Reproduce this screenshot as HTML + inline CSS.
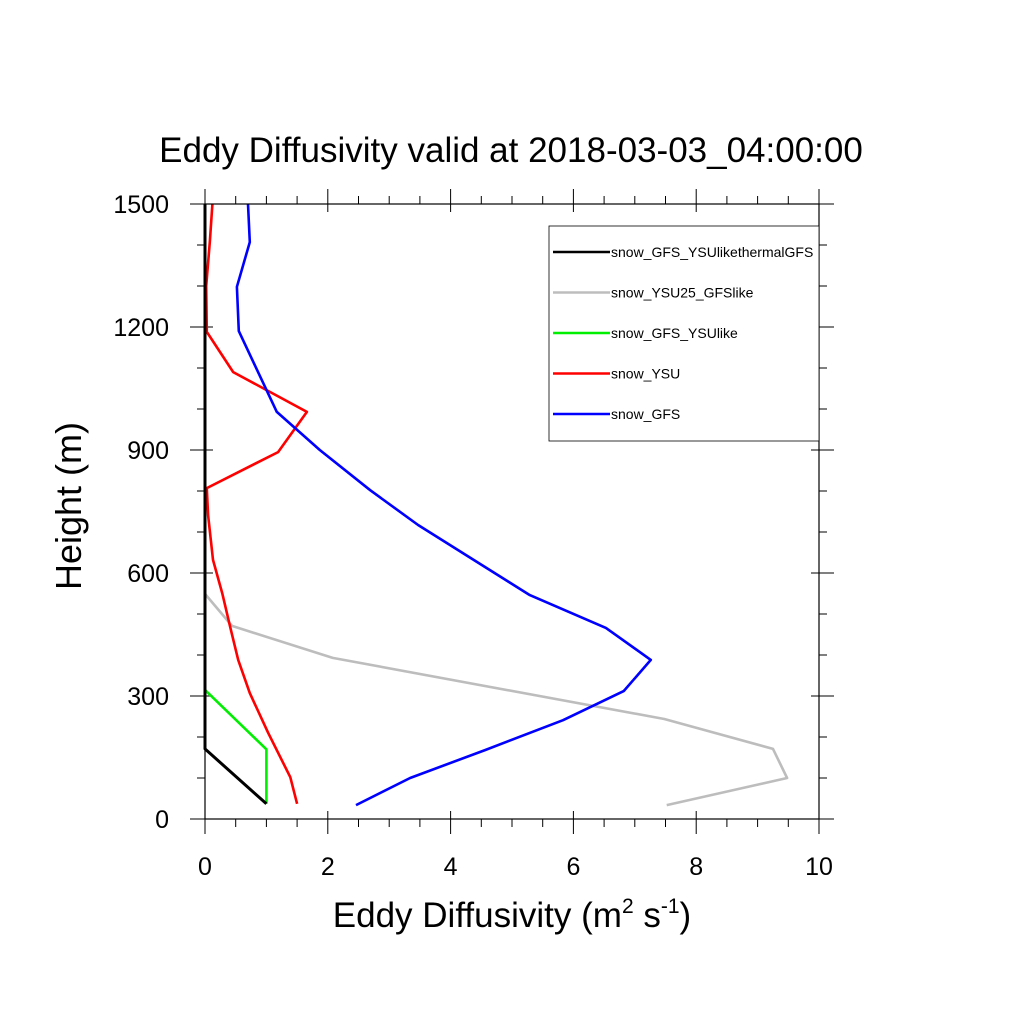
<!DOCTYPE html>
<html><head><meta charset="utf-8"><style>
body{margin:0;background:#fff;}
svg{display:block;font-family:"Liberation Sans",sans-serif;}
</style></head><body>
<svg id="chart" width="1024" height="1024" viewBox="0 0 1024 1024">
<rect width="1024" height="1024" fill="#fff"/>
<text x="511" y="162" font-size="35" text-anchor="middle">Eddy Diffusivity valid at 2018-03-03_04:00:00</text>
<text transform="translate(81,506) rotate(-90)" font-size="36" text-anchor="middle">Height (m)</text>
<text x="512" y="927" font-size="35" text-anchor="middle">Eddy Diffusivity (m<tspan font-size="21" dy="-14">2</tspan><tspan dy="14"> s</tspan><tspan font-size="21" dy="-14">-1</tspan><tspan dy="14">)</tspan></text>
<g id="ticks"></g>
<g id="series"></g>
<rect x="205" y="204" width="614" height="615" fill="none" stroke="#000" stroke-width="1.2"/>
<g id="legend">
<rect x="549" y="226" width="270" height="215" fill="#fff" stroke="#000" stroke-width="0.8"/>
</g>
</svg>
<script>
const xTicks=[0,2,4,6,8,10];
const yTicks=[0,300,600,900,1200,1500];
const seriesNames=["snow_GFS_YSUlikethermalGFS","snow_YSU25_GFSlike","snow_GFS_YSUlike","snow_YSU","snow_GFS"];
const seriesColors=["#000","#bdbdbd","#00ee00","#ff0000","#0000ff"];
const blackX=[1.0,0,0];
const blackY=[37,171,1500];
const grayX=[7.52,9.48,9.25,7.48,2.08,0.44,0,0];
const grayY=[34,100,171,244,393,471,549,1500];
const greenX=[1.0,1.0,0,0];
const greenY=[37,170,315,1500];
const redX=[1.5,1.39,1.03,0.73,0.54,0.41,0.28,0.13,0.05,0.03,1.19,1.66,0.46,0.03,0.02,0.08,0.12];
const redY=[37,102,210,307,388,468,551,632,741,807,895,993,1090,1188,1300,1410,1500];
const blueX=[2.46,3.34,4.56,5.83,6.82,7.26,6.53,5.29,3.47,2.69,1.87,1.17,0.55,0.52,0.73,0.70];
const blueY=[34,100,168,241,312,388,466,546,717,802,900,993,1190,1298,1407,1500];

const NS="http://www.w3.org/2000/svg";
const X0=205,X1=819,Y0=819,Y1=204;
function sx(v){return X0+(v-0)/(10-0)*(X1-X0);}
function sy(v){return Y0-(v-0)/(1500-0)*(Y0-Y1);}
function mk(tag,attrs,parent){const e=document.createElementNS(NS,tag);for(const k in attrs)e.setAttribute(k,attrs[k]);parent.appendChild(e);return e;}
const tg=document.getElementById('ticks');
for(let v=0;v<=10.001;v+=0.5){
  const major=Math.abs(v/2-Math.round(v/2))<1e-6;const x=sx(v);
  const inn=major?8:0,out=major?15:8;
  const b=mk('line',{x1:x,y1:Y0-inn,x2:x,y2:Y0+out,stroke:'#000','stroke-width':1},tg);
  
  
  const t=mk('line',{x1:x,y1:Y1+inn,x2:x,y2:Y1-out,stroke:'#000','stroke-width':1},tg);
  
  
}
for(let v=0;v<=1500.001;v+=100){
  const major=v%300===0;const y=sy(v);
  const inn=major?8:0,out=major?15:8;
  const l=mk('line',{x1:X0+inn,y1:y,x2:X0-out,y2:y,stroke:'#000','stroke-width':1},tg);
  
  
  const r=mk('line',{x1:X1-inn,y1:y,x2:X1+out,y2:y,stroke:'#000','stroke-width':1},tg);
  
  
}
xTicks.forEach(v=>{const t=mk('text',{x:sx(v),y:875,'font-size':25,'text-anchor':'middle'},tg);t.textContent=v;
  
  });
yTicks.forEach(v=>{const t=mk('text',{x:169,y:sy(v)+9,'font-size':25,'text-anchor':'end'},tg);t.textContent=v;
  
  });
const sg=document.getElementById('series');
const data=[[grayX,grayY,1],[greenX,greenY,2],[redX,redY,3],[blueX,blueY,4],[blackX,blackY,0]];
data.forEach(([xs,ys,i])=>{
  const pts=xs.map((x,j)=>sx(x).toFixed(1)+','+sy(ys[j]).toFixed(1)).join(' ');
  const p=mk('polyline',{points:pts,fill:'none',stroke:seriesColors[i],'stroke-width':i===0?3:2.6,'stroke-linejoin':'round'},sg);
  
  
});
const lg=document.getElementById('legend');
seriesNames.forEach((n,i)=>{
  const y=252+i*40.5;
  const g=mk('g',{},lg);
  
  
  mk('line',{x1:553,y1:y,x2:610,y2:y,stroke:seriesColors[i],'stroke-width':2.6},g);
  const t=mk('text',{x:611,y:y+5,'font-size':14},g);t.textContent=n;
});
</script>
</body></html>
